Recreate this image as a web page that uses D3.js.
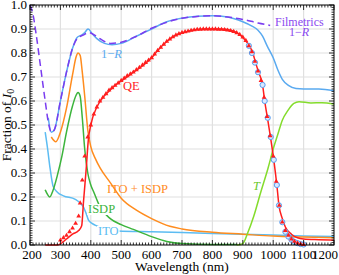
<!DOCTYPE html>
<html>
<head>
<meta charset="utf-8">
<script src="https://cdn.jsdelivr.net/npm/d3@7"></script>
<style>
  body { margin: 0; background: #fff; }
</style>
</head>
<body>
<div id="chart"></div>
<script>
// ---- data (wavelength nm, fraction of I0) ----
var oneMinusR = [[260,0.53],[270,0.47],[280,0.48],[300,0.6],[320,0.72],[340,0.82],[355,0.865],[370,0.875],[380,0.885],[391,0.9],[405,0.88],[420,0.86],[445,0.84],[470,0.834],[500,0.84],[550,0.87],[600,0.9],[650,0.93],[700,0.945],[750,0.953],[800,0.955],[850,0.95],[900,0.93],[930,0.912],[950,0.895],[965,0.87],[980,0.83],[1000,0.78],[1015,0.73],[1030,0.69],[1050,0.665],[1075,0.652],[1100,0.65],[1150,0.65],[1200,0.643]];
var filmetrics = [[200,1.0],[210,0.96],[220,0.88],[235,0.74],[250,0.6],[262,0.5],[270,0.47],[280,0.48],[300,0.6],[320,0.72],[340,0.82],[355,0.86],[375,0.875],[395,0.885],[420,0.868],[445,0.848],[465,0.84],[500,0.845],[550,0.87],[600,0.903],[650,0.928],[700,0.945],[750,0.952],[800,0.955],[850,0.95],[900,0.94],[950,0.925],[990,0.915]];
var itoIsdp = [[270,0.45],[285,0.43],[300,0.47],[320,0.57],[340,0.71],[352,0.785],[358,0.8],[365,0.79],[372,0.72],[380,0.62],[390,0.48],[400,0.41],[415,0.36],[431,0.32],[464,0.26],[500,0.195],[550,0.145],[600,0.11],[660,0.078],[700,0.067],[800,0.053],[900,0.045],[1000,0.037],[1100,0.033],[1200,0.03]];
var isdp = [[250,0.23],[258,0.21],[265,0.2],[275,0.225],[290,0.29],[305,0.37],[320,0.47],[340,0.58],[352,0.625],[358,0.635],[365,0.62],[372,0.53],[380,0.4],[390,0.3],[400,0.25],[410,0.22],[430,0.16],[464,0.11],[500,0.085],[540,0.065],[600,0.035],[650,0.015],[700,0.006],[800,0.002],[880,0.002]];
var ito = [[250,0.47],[258,0.4],[266,0.32],[276,0.245],[290,0.22],[310,0.205],[349,0.19],[365,0.175],[375,0.16],[385,0.13],[392,0.105],[404,0.09],[414,0.083],[440,0.07],[490,0.058],[600,0.055],[700,0.052],[800,0.048],[900,0.045],[1000,0.042],[1100,0.038],[1200,0.035]];
var trans = [[880,0.0],[900,0.006],[916,0.05],[936,0.12],[959,0.22],[983,0.32],[1000,0.4],[1015,0.46],[1030,0.52],[1048,0.56],[1068,0.59],[1085,0.597],[1124,0.592],[1160,0.593],[1200,0.587]];
var qeLine = [[250,0.0],[290,0.0],[300,0.005],[320,0.025],[340,0.045],[360,0.06],[370,0.08],[376,0.18],[385,0.32],[392,0.44],[400,0.5],[420,0.575],[440,0.615],[464,0.646],[490,0.675],[508,0.69],[540,0.72],[574,0.75],[600,0.78],[620,0.81],[652,0.85],[680,0.875],[718,0.89],[771,0.9],[827,0.9],[860,0.895],[883,0.883],[900,0.865],[916,0.84],[933,0.8],[942,0.76],[952,0.72],[965,0.667],[972,0.6],[981,0.53],[991,0.45],[1002,0.354],[1012,0.25],[1019,0.165],[1030,0.11],[1040,0.075],[1060,0.045],[1080,0.03],[1100,0.025],[1150,0.022],[1200,0.02]];
var qeTriangles = [[300,0.02],[310,0.03],[320,0.04],[330,0.055],[340,0.07],[350,0.09],[360,0.12],[365,0.175],[372,0.27],[380,0.37],[390,0.45],[400,0.5],[410,0.545],[420,0.575],[430,0.6],[440,0.615],[450,0.63],[460,0.645],[470,0.655],[480,0.665],[490,0.675],[500,0.685],[510,0.695],[520,0.705],[530,0.712],[540,0.72],[550,0.73],[560,0.74],[570,0.75],[580,0.76],[590,0.77],[600,0.78],[610,0.795],[620,0.81],[630,0.823],[640,0.836],[650,0.848],[660,0.858],[670,0.867],[680,0.875],[690,0.88],[700,0.885],[710,0.888],[720,0.891],[730,0.894],[740,0.896],[750,0.898],[760,0.899],[770,0.9],[780,0.9],[790,0.9],[800,0.9],[810,0.9],[820,0.899],[830,0.898],[840,0.897],[850,0.895],[860,0.893],[870,0.889],[880,0.884],[890,0.877],[900,0.866],[910,0.852],[920,0.83],[930,0.805],[940,0.765],[950,0.725],[960,0.685],[970,0.615],[980,0.535],[990,0.455],[1000,0.37],[1010,0.265],[1020,0.165],[1030,0.095],[1040,0.06],[1050,0.04],[1060,0.025],[1070,0.015],[1080,0.008],[1090,0.004],[1100,0.002]];
var qeCircles = [[920,0.83],[930,0.8],[940,0.76],[950,0.72],[965,0.667],[972,0.6],[982,0.53],[992,0.45],[1002,0.355],[1012,0.25],[1019,0.165],[1030,0.095],[1040,0.055],[1050,0.035],[1060,0.022],[1070,0.013],[1080,0.008],[1090,0.004],[1100,0.002]];
var xTicks = [200,300,400,500,600,700,800,900,1000,1100,1200];
var yTicks = [0,0.1,0.2,0.3,0.4,0.5,0.6,0.7,0.8,0.9,1.0];

var W = 339, H = 275;
var margin = {left: 30, right: 5, top: 5, bottom: 30};
var FONT = "'Liberation Serif', 'Times New Roman', serif";

var svg = d3.select("#chart").append("svg")
    .attr("width", W).attr("height", H);

var x = d3.scaleLinear().domain([200, 1200]).range([margin.left, W - margin.right]);
var y = d3.scaleLinear().domain([0, 1]).range([H - margin.bottom, margin.top]);

// grid
var grid = svg.append("g").attr("class", "grid");
grid.selectAll("line.gx").data(xTicks.slice(1, -1)).enter().append("line")
    .attr("x1", d => x(d)).attr("x2", d => x(d))
    .attr("y1", y(0)).attr("y2", y(1))
    .attr("stroke", "#e0e0e0").attr("stroke-width", 1.2);
grid.selectAll("line.gy").data(yTicks.slice(1, -1)).enter().append("line")
    .attr("x1", x(200)).attr("x2", x(1200))
    .attr("y1", d => y(d)).attr("y2", d => y(d))
    .attr("stroke", "#e0e0e0").attr("stroke-width", 1.2);

var plot = svg.append("g");
var line = d3.line().x(d => x(d[0])).y(d => y(d[1])).curve(d3.curveMonotoneX);

function curve(data, color, dash) {
    plot.append("path")
        .datum(data)
        .attr("fill", "none")
        .attr("stroke", color)
        .attr("stroke-width", 1.5)
        .attr("stroke-dasharray", dash || null)
        .attr("d", line);
}

curve(ito, "#5cbcf2");
curve(isdp, "#3cb43c");
curve(itoIsdp, "#ff8c1e");
curve(trans, "#84dc2c");
curve(oneMinusR, "#5aaaf0");
curve(filmetrics, "#7a3cf0", "7,4");
curve(qeLine, "#ff1e1e");

// markers
plot.selectAll("circle.qc").data(qeCircles).enter().append("circle")
    .attr("cx", d => x(d[0])).attr("cy", d => y(d[1]))
    .attr("r", 2.6)
    .attr("fill", "#d8e8ff").attr("stroke", "#5a9ef0").attr("stroke-width", 1);
plot.selectAll("path.qt").data(qeTriangles).enter().append("path")
    .attr("transform", d => "translate(" + x(d[0]) + "," + y(d[1]) + ")")
    .attr("d", d3.symbol().type(d3.symbolTriangle).size(10))
    .attr("fill", "#ff1e1e");

// labels
function label(tx, ty, parts, color, bg, size) {
    var t = svg.append("text").attr("x", tx).attr("y", ty)
        .style("font-family", FONT).style("font-size", (size || 12.5) + "px").attr("fill", color);
    parts.forEach(function(p) {
        t.append("tspan").text(p[0]).style("font-style", p[1] ? "italic" : null);
    });
    if (bg) {
        var b = t.node().getBBox();
        svg.insert("rect", function() { return t.node(); })
            .attr("x", b.x - 1).attr("y", b.y + 2).attr("width", b.width + 2).attr("height", b.height - 3)
            .attr("fill", "#fff");
    }
    return t;
}
label(101, 58, [["1\u2212"], ["R", true]], "#5aaaf0");
label(123, 90, [["QE"]], "#ff1e1e");
label(275, 26, [["Filmetrics"]], "#8a48f0", false, 12);
label(289, 36, [["1\u2212"], ["R", true]], "#8a48f0", false, 12);
label(107, 193, [["ITO + ISDP"]], "#ff8c1e");
label(88, 213, [["ISDP"]], "#3cb43c", true);
label(98, 235, [["ITO"]], "#5cbcf2", true);
label(253, 190, [["T", true]], "#6cc82a");

// frame and ticks
var axes = svg.append("g");
axes.append("rect")
    .attr("x", x(200)).attr("y", y(1))
    .attr("width", x(1200) - x(200)).attr("height", y(0) - y(1))
    .attr("fill", "none").attr("stroke", "#000").attr("stroke-width", 1);

var xMinor = d3.range(200, 1201, 10);
var yMinor = d3.range(0, 101, 1).map(d => d / 100);
function isMajorX(d) { return d % 100 === 0; }
function isMajorY(d) { return Math.round(d * 100) % 10 === 0; }

axes.selectAll("line.xb").data(xMinor).enter().append("line")
    .attr("x1", d => x(d)).attr("x2", d => x(d))
    .attr("y1", y(0)).attr("y2", d => y(0) - (isMajorX(d) ? 5 : 2.5))
    .attr("stroke", "#000").attr("stroke-width", 0.8);
axes.selectAll("line.xt").data(xMinor).enter().append("line")
    .attr("x1", d => x(d)).attr("x2", d => x(d))
    .attr("y1", y(1)).attr("y2", d => y(1) + (isMajorX(d) ? 5 : 2.5))
    .attr("stroke", "#000").attr("stroke-width", 0.8);
axes.selectAll("line.yl").data(yMinor).enter().append("line")
    .attr("y1", d => y(d)).attr("y2", d => y(d))
    .attr("x1", x(200)).attr("x2", d => x(200) + (isMajorY(d) ? 5 : 2.5))
    .attr("stroke", "#000").attr("stroke-width", 0.8);
axes.selectAll("line.yr").data(yMinor).enter().append("line")
    .attr("y1", d => y(d)).attr("y2", d => y(d))
    .attr("x1", x(1200)).attr("x2", d => x(1200) - (isMajorY(d) ? 5 : 2.5))
    .attr("stroke", "#000").attr("stroke-width", 0.8);

axes.selectAll("text.xl").data(xTicks).enter().append("text")
    .attr("x", d => d === 1200 ? W - 1 : x(d) + (d === 200 ? 2 : 0)).attr("y", y(0) + 14)
    .attr("text-anchor", d => d === 1200 ? "end" : "middle")
    .style("font-family", FONT).style("font-size", "13px")
    .text(d => d);
axes.selectAll("text.yl").data(yTicks).enter().append("text")
    .attr("x", x(200) - 3).attr("y", d => y(d) + 4)
    .attr("text-anchor", "end")
    .style("font-family", FONT).style("font-size", "13px")
    .text(d => d.toFixed(1));

axes.append("text")
    .attr("x", (x(200) + x(1200)) / 2).attr("y", H - 4)
    .attr("text-anchor", "middle")
    .style("font-family", FONT).style("font-size", "13.5px")
    .text("Wavelength (nm)");

var yt = axes.append("text")
    .attr("transform", "translate(11," + ((y(0) + y(1)) / 2) + ") rotate(-90)")
    .attr("text-anchor", "middle")
    .style("font-family", FONT).style("font-size", "13.5px");
yt.append("tspan").text("Fraction of ");
yt.append("tspan").text("I").style("font-style", "italic");
yt.append("tspan").text("0").style("font-size", "10px").attr("dy", 3);
</script>
</body>
</html>
